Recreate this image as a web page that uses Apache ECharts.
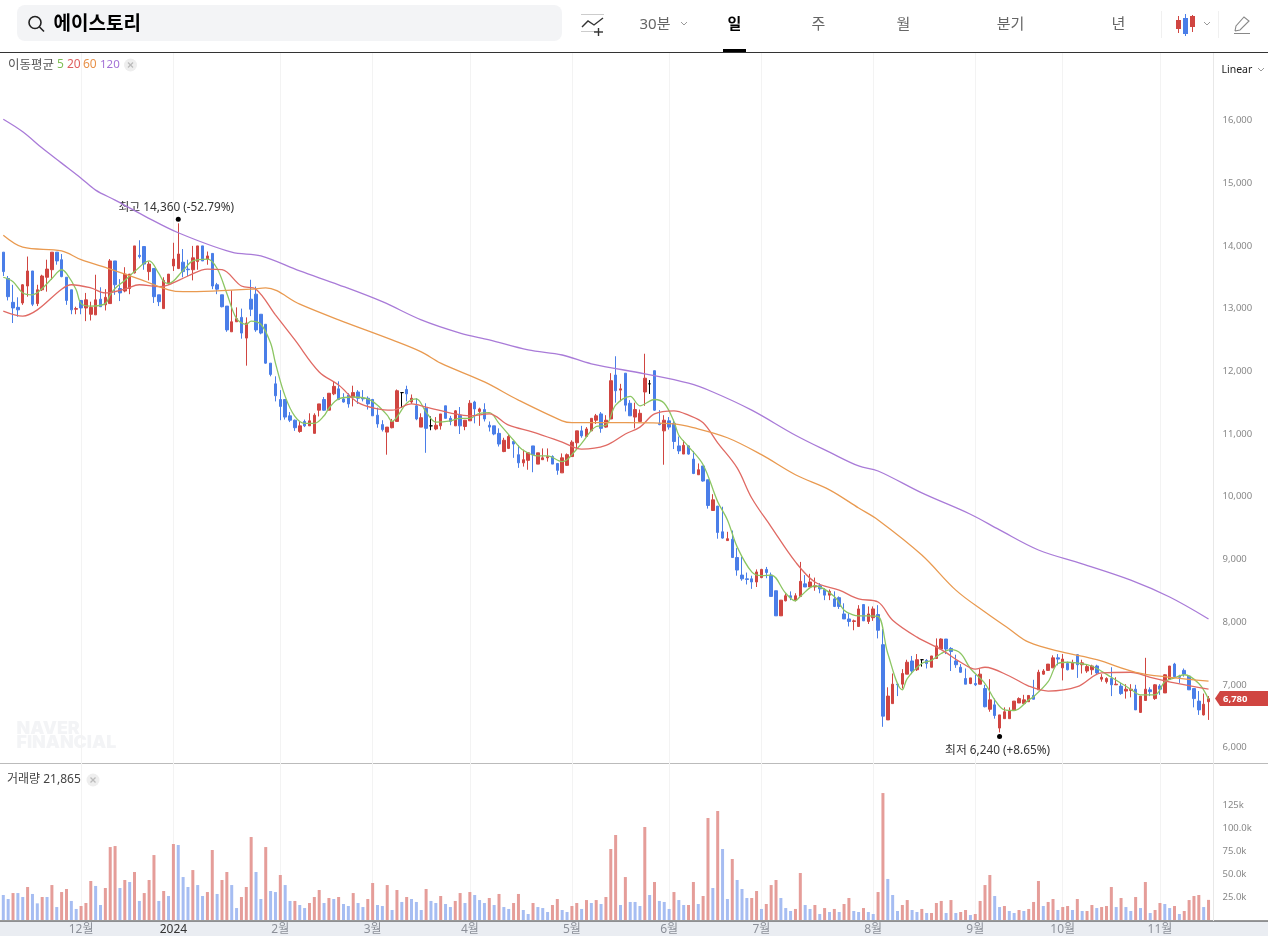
<!DOCTYPE html>
<html lang="ko">
<head>
<meta charset="utf-8">
<title>에이스토리</title>
<style>html,body{margin:0;padding:0;background:#fff}#chart{width:1268px;height:936px}</style>
<script src="https://cdn.jsdelivr.net/npm/echarts@6/dist/echarts.min.js"></script>
</head>
<body>
<div id="chart"></div>
<script>
const opens = [
13900,13480,13100,13020,13090,13360,13600,13080,13300,13500,
13620,13900,13780,13500,13300,12990,13130,13010,12910,12900,
13150,13060,13080,13760,13320,13280,13320,13570,13850,13990,
13590,13640,13220,13000,13410,13680,13640,13740,13630,13620,
13750,14000,13790,13880,13380,13220,13040,12630,12790,12860,
12530,13150,13230,12910,12750,12130,11800,11550,11550,11290,
11220,11040,11200,11130,11010,11380,11550,11380,11640,11720,
11560,11620,11590,11670,11570,11570,11550,11300,11150,11030,
11100,11200,11660,11710,11510,11450,11110,11410,11130,11080,
11130,11450,11250,11130,11300,11120,11210,11510,11360,11390,
11140,11130,11010,10720,10770,10880,10670,10540,10580,10810,
10520,10590,10620,10640,10530,10380,10500,10640,10860,11050,
10960,11050,11220,11320,11110,11240,11940,11700,11970,11490,
11270,11200,11670,11800,12010,11170,11050,11210,11170,10810,
10680,10810,10600,10350,10490,10270,9780,9850,9440,9300,
9320,9030,8750,8690,8690,8640,8710,8840,8750,8500,
8100,8340,8420,8350,8410,8610,8560,8560,8580,8520,
8430,8370,8390,8130,8050,8010,7930,8280,8010,8070,
8120,7640,6440,6700,7010,7010,7170,7380,7240,7400,
7390,7280,7420,7570,7730,7580,7380,7280,7100,7020,
7020,7010,6940,6610,6680,6310,6460,6460,6590,6710,
6700,6730,6830,6920,7170,7230,7270,7430,7270,7340,
7250,7480,7320,7220,7240,7300,7090,7050,7100,7000,
6980,6900,6910,6930,6560,6750,6920,6780,6980,6870,
7090,7330,7140,7230,7140,6940,6740,6520,6730];
const closes = [
13590,13190,13010,12980,13380,13600,13070,13300,13520,13630,
13900,13760,13510,13130,12980,13000,13010,13140,13020,13140,
13030,13180,13760,13380,13250,13550,13550,14000,13830,13710,
13710,13190,13110,13450,13550,13790,13870,13590,13620,13810,
14000,13760,13840,13360,13310,13030,12660,12790,12840,12610,
12770,12990,12660,12610,12130,11950,11610,11440,11270,11220,
11100,11130,11130,11210,11300,11480,11380,11650,11760,11550,
11510,11480,11660,11570,11560,11480,11290,11160,11070,11110,
11200,11690,11660,11640,11570,11240,11260,11090,11130,11140,
11320,11250,11200,11370,11130,11220,11490,11400,11400,11240,
11110,11000,10840,10900,10960,10840,10540,10590,10700,10670,
10700,10620,10640,10520,10420,10620,10670,10870,11050,10970,
11080,11250,11290,11090,11220,11850,11690,11720,11460,11290,
11390,11330,11890,11800,11380,11150,11220,11110,10880,10730,
10820,10680,10370,10430,10250,9860,9950,9430,9340,9330,
9030,8830,8690,8680,8640,8800,8840,8790,8410,8100,
8350,8420,8390,8420,8650,8560,8640,8580,8530,8430,
8490,8250,8250,8050,8010,8020,8210,8020,8130,8210,
7870,6500,6820,7010,7000,7180,7360,7220,7400,7400,
7340,7460,7620,7730,7570,7530,7320,7200,7010,7110,
7000,7170,6650,6760,6510,6520,6570,6590,6740,6780,
6760,6830,6770,7200,7220,7330,7430,7410,7410,7240,
7350,7320,7350,7290,7300,7190,7120,7100,7000,7010,
6860,6930,6930,6600,6820,6930,6890,7000,6930,7160,
7300,7130,7120,7170,6920,6780,6600,6690,6780];
const lows = [
13520,13130,12770,12870,13060,13190,13040,13040,13280,13270,
13460,13700,13500,13060,12910,12910,12910,12800,12810,12900,
13030,12970,13080,13220,13120,13260,13230,13560,13800,13620,
13450,13090,13040,13000,13380,13600,13630,13500,13520,13450,
13620,13760,13700,13310,13230,13020,12630,12630,12790,12520,
12090,12880,12630,12590,12120,11920,11520,11220,11230,11190,
11050,11020,11110,11130,11010,11280,11370,11380,11620,11540,
11500,11420,11440,11480,11520,11390,11290,11100,11040,10670,
11090,11200,11420,11520,11480,11220,11110,10700,11060,11060,
11070,11250,11140,11130,11000,11060,11210,11170,11130,11200,
11040,10980,10800,10710,10760,10620,10460,10480,10430,10390,
10520,10590,10560,10520,10350,10380,10490,10640,10770,10940,
10950,11050,11160,11020,11100,11240,11500,11520,11360,11290,
11090,11200,11450,11640,11370,11140,10510,11070,10760,10680,
10680,10670,10360,10350,10240,9810,9780,9330,9330,9300,
9030,8740,8660,8600,8530,8560,8700,8700,8410,8100,
8100,8330,8350,8330,8410,8560,8560,8500,8460,8350,
8350,8240,8210,8050,7930,7870,7930,8020,7970,8020,
7740,6330,6440,6700,6820,6940,7170,7170,7220,7290,
7260,7280,7420,7570,7490,7220,7270,7190,7010,7010,
6980,7010,6640,6570,6460,6240,6460,6460,6590,6710,
6700,6730,6770,6920,7160,7220,7270,7310,7070,7230,
7250,7110,7180,7190,7160,7160,7050,7020,6820,7000,
6840,6780,6800,6600,6550,6750,6820,6760,6840,6870,
7080,7120,7030,7130,6920,6640,6520,6510,6440];
const highs = [
13900,13520,13380,13180,13390,13830,13600,13380,13540,13780,
13900,13900,13870,13500,13300,13030,13130,13250,13110,13540,
13340,13310,13790,13760,13470,13660,13550,14000,14090,13990,
13750,13640,13220,13500,13550,14050,14360,13950,13780,14000,
14000,14000,13910,13880,13410,13220,13040,13290,13020,13000,
12860,13460,13350,12910,12750,12130,11920,11700,11550,11350,
11230,11200,11230,11330,11330,11480,11590,11650,11840,11840,
11650,11650,11770,11700,11700,11600,11560,11420,11220,11110,
11240,11710,11660,11770,11630,11570,11330,11490,11280,11270,
11320,11450,11290,11380,11430,11220,11540,11530,11420,11490,
11200,11130,11090,10940,11000,10880,10820,10750,10700,10810,
10700,10770,10770,10660,10530,10690,10690,10900,11050,11130,
11110,11250,11320,11350,11300,11970,12240,11800,11970,11540,
11500,11390,12280,11860,12010,11380,11300,11270,11230,10960,
10900,10820,10730,10530,10490,10270,10040,9850,9840,9440,
9460,9180,9040,8790,8740,8840,8850,8880,8790,8500,
8350,8460,8490,8460,8960,8750,8770,8710,8620,8540,
8520,8490,8410,8300,8140,8040,8270,8280,8250,8250,
8270,7890,6960,7180,7020,7250,7400,7460,7490,7410,
7410,7460,7740,7740,7730,7600,7480,7330,7260,7110,
7160,7250,7000,7090,6780,6520,6640,6640,6740,6800,
6840,6830,7080,7240,7250,7330,7470,7490,7490,7370,
7400,7490,7400,7330,7320,7320,7170,7120,7280,7120,
7030,7010,7010,7000,6820,7430,6960,7010,7010,7170,
7300,7350,7160,7260,7140,6940,6900,6860,6820];

const volumes = [
27200,22800,29300,29300,25000,35900,28300,18100,25000,25000,
38000,14100,30400,33700,20700,12000,15200,18500,42400,37000,
16300,34800,79300,80400,34800,43500,41300,52200,20700,29300,
43500,70600,20700,31500,26100,82600,81500,46700,35900,54300,
38000,26100,30400,76100,28300,43500,52200,38000,13000,25000,
35900,90200,52200,22800,79300,31500,30400,48900,38000,20700,
20700,16300,13000,18500,25000,32600,18500,23900,22800,25000,
17400,15200,29300,18500,14100,22800,40200,16300,15200,38000,
10900,32600,19600,25000,22800,19600,
10900,33700,20700,18500,26100,17400,14100,20700,29300,18500,
30400,27200,21700,18500,23900,16300,28300,14100,12000,18500,
28300,10900,6500,18500,14100,13000,8700,16300,22800,10900,
8700,15200,18500,12000,21700,18500,21700,17400,25000,77200,
92400,16300,46700,19600,19600,15200,101100,27200,41300,20700,
19600,12000,30400,21700,16300,16300,41300,17400,26100,110900,
34800,118500,77200,22800,66300,43500,33700,23900,23900,31500,
12000,17400,38000,43500,23900,13000,9800,12000,51100,16300,
12000,16300,6500,13000,8700,12000,8700,
17400,23900,9800,8700,13000,8700,6500,30400,138000,44600,
27200,9800,16300,21700,10900,8700,12000,7600,7600,18500,
20700,7600,21700,7600,8700,10900,5400,6500,20700,38000,
48900,26100,14100,15200,9800,7600,10900,9800,12000,19600,
42400,15200,19600,22800,10900,14100,15200,10900,22800,9800,
9800,16300,13000,14100,15200,35900,14100,23900,14100,9800,
25000,13000,41300,7600,10900,18500,17400,13000,15200,6500,
9800,21700,26100,27200,14100,21865];

const volumeRising = [
"bbrbbrbbrb","rbrrbbrrrb","brrrbrbrbr","rrbrbrbbbr","bbrrbrrbbr",
"rrbbrbbrbb","rbbrrrbrbr","bbrbbrrbbr","brbrbb",
"brbbrbbrrb","rbbbrbrbbr","rbbrbbbrrb","brrbrbrbrr","rbrbbbrbrb",
"bbrbbrrbrr","brbbrbbbrr","brrrbbbrrb","brbrbrb",
"rrbbrbbrrb","bbrrbbrbrr","rbrbrrbrrr","rbbrbbrbrr","rbrrbrrbrb",
"rrbrrrbrbb","rbrbrrbbrb","rrrrbr"
].join("").split("");

const ma5Points = [[0,13500],[2,13430],[4,13250],[6,13220],[8,13320],[10,13480],[12,13620],[13,13560],[15,13300],[16,13080],[18,13040],[21,13080],[22,13220],[23,13320],[25,13450],[27,13590],[30,13760],[32,13560],[33,13430],[34,13400],[37,13610],[39,13760],[42,13790],[44,13640],[46,13240],[48,12840],[50,12750],[51,12800],[53,12750],[55,12450],[56,12130],[58,11600],[60,11280],[62,11170],[64,11170],[66,11290],[67,11410],[69,11560],[72,11590],[75,11560],[77,11460],[79,11300],[80,11200],[81,11270],[83,11490],[85,11560],[87,11350],[89,11190],[92,11210],[94,11250],[96,11250],[98,11330],[100,11340],[102,11170],[105,10900],[107,10740],[110,10650],[112,10650],[115,10560],[116,10590],[117,10670],[119,10850],[122,11120],[124,11140],[126,11460],[129,11600],[131,11450],[134,11550],[136,11490],[138,11200],[139,10980],[141,10800],[144,10510],[147,9920],[149,9630],[151,9200],[154,8800],[156,8740],[158,8750],[161,8460],[163,8340],[164,8410],[167,8580],[171,8410],[173,8190],[175,8110],[176,8100],[178,8100],[180,8090],[182,7500],[185,6920],[186,7100],[189,7340],[191,7390],[193,7500],[195,7560],[197,7500],[199,7260],[202,7020],[204,6760],[206,6600],[208,6590],[211,6760],[212,6810],[215,7050],[217,7340],[219,7360],[223,7320],[225,7260],[228,7120],[232,6930],[234,6840],[237,6840],[239,7050],[241,7110],[243,7160],[246,7020],[248,6770]];
const ma20Points = [[0,12960],[4,12880],[7,12980],[12,13310],[14,13380],[18,13330],[21,13250],[25,13310],[28,13380],[32,13350],[34,13380],[38,13520],[42,13630],[45,13620],[49,13360],[52,13310],[56,12900],[60,12500],[65,11990],[69,11780],[73,11500],[77,11400],[80,11380],[84,11480],[87,11430],[93,11320],[96,11290],[100,11320],[104,11140],[109,11030],[115,10870],[119,10760],[124,10820],[128,11000],[131,11110],[134,11320],[138,11370],[141,11300],[144,11180],[147,10860],[151,10460],[154,9980],[158,9520],[163,8960],[167,8640],[172,8510],[176,8370],[180,8320],[183,8030],[188,7760],[193,7560],[197,7360],[200,7250],[202,7280],[207,7140],[211,6980],[215,6900],[221,6970],[226,7190],[232,7200],[236,7120],[241,7030],[248,6930]];
const ma60Points = [[0,14170],[4,13980],[12,13920],[16,13780],[22,13630],[28,13470],[34,13300],[37,13270],[43,13280],[51,13310],[54,13330],[61,13070],[69,12820],[80,12500],[86,12310],[90,12130],[99,11830],[106,11540],[115,11210],[117,11180],[128,11180],[138,11160],[142,11100],[149,10940],[156,10670],[163,10350],[170,10110],[176,9820],[180,9630],[189,9070],[196,8510],[202,8160],[207,7890],[211,7680],[218,7520],[225,7400],[233,7200],[240,7120],[248,7060]];
const ma120Points = [[0,16020],[4,15820],[8,15560],[12,15320],[16,15080],[19,14890],[23,14730],[29,14480],[36,14210],[47,13900],[53,13840],[61,13600],[69,13380],[78,13110],[86,12820],[94,12610],[100,12500],[108,12340],[115,12260],[121,12120],[132,11960],[141,11810],[146,11670],[154,11380],[163,10980],[170,10710],[176,10490],[180,10410],[189,10060],[199,9720],[205,9470],[213,9150],[222,8930],[232,8670],[240,8400],[248,8050]];

const tickIndexes = [16,35,57,76,96,117,137,156,179,200,218,238];
const tickLabels = ["12월","2024","2월","3월","4월","5월","6월","7월","8월","9월","10월","11월"];
const priceTicks = [6000,7000,8000,9000,10000,11000,12000,13000,14000,15000,16000];
const volumeTickLabels = {25000:"25.0k",50000:"50.0k",75000:"75.0k",100000:"100.0k",125000:"125k"};

const n = opens.length;
if ([closes,lows,highs,volumes,volumeRising].some(a=>a.length!==n)) {
  throw new Error("length mismatch");
}
const categories = opens.map((_,i)=>{const k=tickIndexes.indexOf(i);return k>=0?tickLabels[k]:"i"+i;});
const candles = opens.map((o,i)=>[o,closes[i],lows[i],highs[i]]);
const lastClose = closes[n-1];

const FONT = '"Noto Sans","Noto Sans CJK KR",sans-serif';
const RED="#d04541", BLUE="#4a7ee8", VRED="#e59d99", VBLUE="#a6bdf2";
const GL=0.87, GW=1210.1;

const chart = echarts.init(document.getElementById("chart"),null,{renderer:"canvas"});
const isTick = i=>tickIndexes.includes(i);

function maSeries(name,data,color){
  return {name,type:"line",xAxisIndex:1,yAxisIndex:1,data,symbol:"none",smooth:0.35,silent:true,z:5,
    lineStyle:{color,width:1.3},animation:false};
}
const txt=(x,y,text,o={})=>({type:"text",x,y:y+1.5,silent:true,style:Object.assign({text,fontFamily:FONT,fontSize:12,fill:"#555",verticalAlign:"middle",align:"left"},o)});
const rect=(x,y,w,h,fill,r=0,z=0)=>({type:"rect",z,silent:true,shape:{x,y,width:w,height:h,r},style:{fill}});
const line=(x1,y1,x2,y2,stroke,lw=1,z=0)=>({type:"line",z,silent:true,shape:{x1,y1,x2,y2},style:{stroke,lineWidth:lw}});
const poly=(pts,stroke,lw=1)=>({type:"polyline",silent:true,shape:{points:pts},style:{stroke,lineWidth:lw,fill:null}});
const chev=(x,y,s="#999")=>poly([[x-3,y-2],[x,y+1],[x+3,y-2]],s,1);
const closeBtn=(x,y)=>[
  {type:"circle",silent:true,shape:{cx:x,cy:y,r:6.5},style:{fill:"#eeeeee"}},
  line(x-2.5,y-2.5,x+2.5,y+2.5,"#bbb",1.2),line(x+2.5,y-2.5,x-2.5,y+2.5,"#bbb",1.2)];

const chrome=[
  rect(0,921,1268,15,"#eaedf2",0,-1),
  rect(17,5,545,36,"#f3f4f6",8),
  {type:"circle",silent:true,shape:{cx:35,cy:22.5,r:6},style:{fill:null,stroke:"#222",lineWidth:1.6}},
  line(39.5,27,44,31.5,"#222",1.6),
  txt(53.5,23,"에이스토리",{fontSize:19,fontWeight:"bold",fill:"#000"}),
  line(581,14.5,604,14.5,"#ccc"),line(581,31.5,598,31.5,"#ccc"),
  poly([[582,27],[588,21],[594,25],[603,18]],"#333",1.4),
  line(594,32,603,32,"#333",1.4),line(598.5,28,598.5,36,"#333",1.4),
  txt(639.5,23.5,"30분",{fontSize:15,fill:"#666"}),chev(684,24),
  txt(734.5,23.5,"일",{fontSize:15,fontWeight:"bold",fill:"#000",align:"center"}),
  rect(723,49,23,3.5,"#000"),
  txt(818.5,23.5,"주",{fontSize:15,fill:"#666",align:"center"}),
  txt(903.5,23.5,"월",{fontSize:15,fill:"#666",align:"center"}),
  txt(1010.5,23.5,"분기",{fontSize:15,fill:"#666",align:"center"}),
  txt(1118.5,23.5,"년",{fontSize:15,fill:"#666",align:"center"}),
  line(1161.5,11,1161.5,38,"#f0f0f0"),line(1218.5,11,1218.5,38,"#f0f0f0"),
  line(1178.5,16,1178.5,33,RED),rect(1176,20,5,9,RED),
  line(1185.5,14,1185.5,36,BLUE),rect(1183,18,5,16,BLUE),
  line(1192.5,15,1192.5,32,RED),rect(1190,16,5,11,RED),
  chev(1207,24),
  poly([[1235,31],[1236,26],[1244,17],[1249,21],[1240,30],[1235,31]],"#888",1.1),
  line(1234,33.5,1250,33.5,"#888"),
  line(0,52.5,1268,52.5,"#333"),
  txt(1221.5,69,"Linear",{fontSize:10.5,fill:"#222"}),chev(1261,70),
  txt(8,63.5,"이동평균",{fontSize:12.5,fill:"#555"}),
  txt(57,63.5,"5",{fill:"#7fbf55"}),txt(67,63.5,"20",{fill:"#df5f5f"}),
  txt(83,63.5,"60",{fill:"#e8924a"}),txt(100,63.5,"120",{fill:"#a472d6",fontSize:11.5}),
  ...closeBtn(130.5,65),
  line(0,763.5,1268,763.5,"#bbb"),
  txt(7,778.5,"거래량 21,865",{fontSize:12,fill:"#444"}),
  ...closeBtn(93,780),
  line(0,921,1268,921,"#333"),
  line(1213.5,53,1213.5,921,"#e8e8e8"),
  txt(16.5,727.5,"NAVER",{fontSize:17.8,fontWeight:900,fill:"#f3f4f6",fontFamily:"Inter"}),
  txt(16.5,741.5,"FINANCIAL",{fontSize:17.8,fontWeight:900,fill:"#f3f4f6",fontFamily:"Inter"})
];

const option={
  animation:false,
  backgroundColor:"#fff",
  textStyle:{fontFamily:FONT},
  grid:[
    {left:GL,width:GW,top:53,height:868},
    {left:GL,width:GW,top:57.8,height:689.7},
    {left:GL,width:GW,top:782,height:138}
  ],
  xAxis:[
    {type:"category",gridIndex:0,data:categories,boundaryGap:true,
      axisLine:{show:false},axisTick:{show:false},
      axisLabel:{interval:(i)=>isTick(i),formatter:(v)=>v,fontSize:12,margin:5,
        color:(v)=>v==="2024"?"#333":"#8c9099",fontFamily:FONT},
      splitLine:{show:true,interval:(i)=>isTick(i),alignWithLabel:true,lineStyle:{color:"#f3f3f3",width:1}}},
    {type:"category",gridIndex:1,data:categories,show:false},
    {type:"category",gridIndex:2,data:categories,show:false}
  ],
  yAxis:[
    {type:"value",gridIndex:0,show:false,min:0,max:1,splitLine:{show:false}},
    {type:"value",gridIndex:1,position:"right",min:6000,max:17000,interval:1000,
      axisLine:{show:false},axisTick:{show:false},splitLine:{show:false},
      axisLabel:{margin:11.5,align:"left",fontSize:9.5,color:"#888",fontFamily:FONT,padding:[4,0,0,0],
        formatter:(v)=>priceTicks.includes(v)?v.toLocaleString("en-US"):""}},
    {type:"value",gridIndex:2,position:"right",min:0,max:150000,interval:25000,
      axisLine:{show:false},axisTick:{show:false},splitLine:{show:false},
      axisLabel:{margin:11.5,align:"left",fontSize:9.5,color:"#888",fontFamily:FONT,padding:[4,0,0,0],
        formatter:(v)=>volumeTickLabels[v]||""}}
  ],
  series:[
    {name:"price",type:"candlestick",xAxisIndex:1,yAxisIndex:1,data:candles,barWidth:3,z:3,
      itemStyle:{color:RED,color0:BLUE,borderColor:RED,borderColor0:BLUE,borderColorDoji:"#000",borderWidth:1},
      markPoint:{silent:true,animation:false,symbol:"circle",symbolSize:5,itemStyle:{color:"#000"},
        data:[
          {coord:[36,highs[36]],symbolOffset:[0,-4],
            label:{show:true,position:"top",distance:3,offset:[-2,0],color:"#333",fontSize:11.8,fontFamily:FONT,formatter:"최고 14,360 (-52.79%)"}},
          {coord:[205,lows[205]],symbolOffset:[0,4],
            label:{show:true,position:"bottom",distance:6,offset:[-2,0],color:"#333",fontSize:11.8,fontFamily:FONT,formatter:"최저 6,240 (+8.65%)"}}
        ]}},
    maSeries("이동평균 5",ma5Points,"#8cc663"),
    maSeries("이동평균 20",ma20Points,"#e06a64"),
    maSeries("이동평균 60",ma60Points,"#e99a50"),
    maSeries("이동평균 120",ma120Points,"#a97bd8"),
    {name:"거래량",type:"bar",xAxisIndex:2,yAxisIndex:2,barWidth:3,silent:true,
      data:volumes.map((v,i)=>({value:v,itemStyle:{color:volumeRising[i]==="r"?VRED:VBLUE}}))}
  ],
  graphic:{elements:chrome}
};
chart.setOption(option);

const tagY=chart.convertToPixel({yAxisIndex:1},lastClose);
chart.setOption({graphic:{elements:chrome.concat([
  {type:"polygon",silent:true,shape:{points:[[1215,tagY],[1220,tagY-7.5],[1268,tagY-7.5],[1268,tagY+7.5],[1220,tagY+7.5]]},style:{fill:"#d04541"}},
  txt(1223,tagY-1,lastClose.toLocaleString("en-US"),{fontSize:9.5,fontWeight:"bold",fill:"#fff"})
])}});
</script>
</body>
</html>
